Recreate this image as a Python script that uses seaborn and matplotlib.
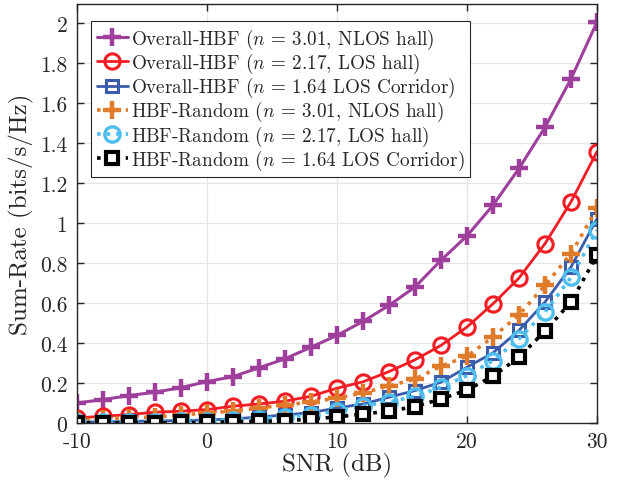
import numpy as np
import pandas as pd
import seaborn as sns
import matplotlib
matplotlib.use("Agg")
import matplotlib.pyplot as plt

# data
snr = [-10, -8, -6, -4, -2, 0, 2, 4, 6, 8, 10, 12, 14, 16, 18, 20, 22, 24, 26, 28, 30]
overall_nlos_hall = [0.100, 0.117, 0.137, 0.154, 0.177, 0.207, 0.232, 0.276, 0.321, 0.379, 0.438,
                     0.508, 0.588, 0.680, 0.814, 0.936, 1.089, 1.273, 1.479, 1.721, 2.005]
overall_los_hall = [0.025, 0.034, 0.042, 0.054, 0.059, 0.067, 0.084, 0.095, 0.109, 0.134, 0.174,
                    0.206, 0.257, 0.316, 0.388, 0.480, 0.596, 0.725, 0.897, 1.106, 1.357]
overall_los_corr = [0.005, 0.006, 0.008, 0.010, 0.012, 0.015, 0.020, 0.030, 0.040, 0.052, 0.075,
                    0.095, 0.129, 0.162, 0.204, 0.279, 0.351, 0.463, 0.605, 0.780, 1.022]
random_nlos_hall = [0.015, 0.020, 0.025, 0.030, 0.040, 0.050, 0.060, 0.075, 0.090, 0.105, 0.125,
                    0.150, 0.185, 0.220, 0.284, 0.334, 0.430, 0.541, 0.688, 0.847, 1.073]
random_los_hall = [0.003, 0.004, 0.005, 0.006, 0.008, 0.010, 0.015, 0.020, 0.030, 0.040, 0.060,
                   0.087, 0.104, 0.134, 0.179, 0.237, 0.312, 0.421, 0.555, 0.728, 0.964]
random_los_corr = [0.001, 0.001, 0.002, 0.002, 0.003, 0.004, 0.006, 0.008, 0.011, 0.020, 0.030,
                   0.045, 0.059, 0.082, 0.120, 0.165, 0.234, 0.329, 0.460, 0.605, 0.839]

labels = [
    r"Overall-HBF ($n$ = 3.01, NLOS hall)",
    r"Overall-HBF ($n$ = 2.17, LOS hall)",
    r"Overall-HBF ($n$ = 1.64 LOS Corridor)",
    r"HBF-Random ($n$ = 3.01, NLOS hall)",
    r"HBF-Random ($n$ = 2.17, LOS hall)",
    r"HBF-Random ($n$ = 1.64 LOS Corridor)",
]
series = [overall_nlos_hall, overall_los_hall, overall_los_corr,
          random_nlos_hall, random_los_hall, random_los_corr]

styles = [
    dict(color="#9e3f9b", marker="+", ls="-", lw=2.2, ms=13, mew=3.2, mfc="none"),
    dict(color="#f21c24", marker="o", ls="-", lw=2.0, ms=11, mew=2.2, mfc="none"),
    dict(color="#3a5caa", marker="s", ls="-", lw=2.0, ms=9, mew=2.2, mfc="none"),
    dict(color="#e07b2c", marker="+", ls=":", lw=2.6, ms=13, mew=3.2, mfc="none"),
    dict(color="#4dbeee", marker="o", ls=":", lw=2.6, ms=11, mew=2.4, mfc="none"),
    dict(color="black", marker="s", ls=":", lw=2.6, ms=9, mew=3.0, mfc="white"),
]

sns.set_theme(style="whitegrid")
plt.rcParams["font.family"] = ["cmr10", "DejaVu Serif"]
plt.rcParams["mathtext.fontset"] = "cm"
plt.rcParams["axes.unicode_minus"] = False
plt.rcParams["axes.formatter.use_mathtext"] = True

fig = plt.figure(figsize=(6.27, 4.85), dpi=100)
ax = fig.add_axes([0.1228, 0.1258, 0.8294, 0.8639])

for y, lab, st in zip(series, labels, styles):
    df = pd.DataFrame({"snr": snr, "rate": y})
    sns.lineplot(data=df, x="snr", y="rate", ax=ax, label=lab, color=st["color"],
                 marker=st["marker"], linestyle=st["ls"], linewidth=st["lw"],
                 markersize=st["ms"], markeredgewidth=st["mew"],
                 markerfacecolor=st["mfc"], markeredgecolor=st["color"])

ax.set_xlim(-10, 30)
ax.set_ylim(0, 2.095)
ax.set_xticks([-10, 0, 10, 20, 30])
ax.set_xticklabels(["-10", "0", "10", "20", "30"])
ax.set_yticks(np.arange(0, 2.01, 0.2))
ax.set_yticklabels(["0", "0.2", "0.4", "0.6", "0.8", "1", "1.2", "1.4", "1.6", "1.8", "2"])
ax.set_xlabel("SNR (dB)", fontsize=18, color="#262626", labelpad=1)
ax.set_ylabel("Sum-Rate (bits/s/Hz)", fontsize=18, color="#262626", labelpad=4)
ax.tick_params(axis="both", direction="in", length=5, width=1, colors="#262626",
               labelsize=15.5, top=True, right=True, bottom=True, left=True)
ax.tick_params(axis="x", pad=6)
ax.tick_params(axis="y", pad=7)
ax.grid(True, color="#e6e6e6", lw=0.9)
for s in ax.spines.values():
    s.set_color("#262626")
    s.set_linewidth(1.0)

leg = ax.legend(loc="upper left", bbox_to_anchor=(0.02, 0.968), fontsize=13.8,
                handlelength=1.6, handletextpad=0.15, labelspacing=0.0,
                borderpad=0.3, borderaxespad=0.2, fancybox=False, framealpha=1)
leg.get_frame().set_edgecolor("#262626")
leg.get_frame().set_linewidth(0.8)

fig.savefig("out.png", dpi=100)
